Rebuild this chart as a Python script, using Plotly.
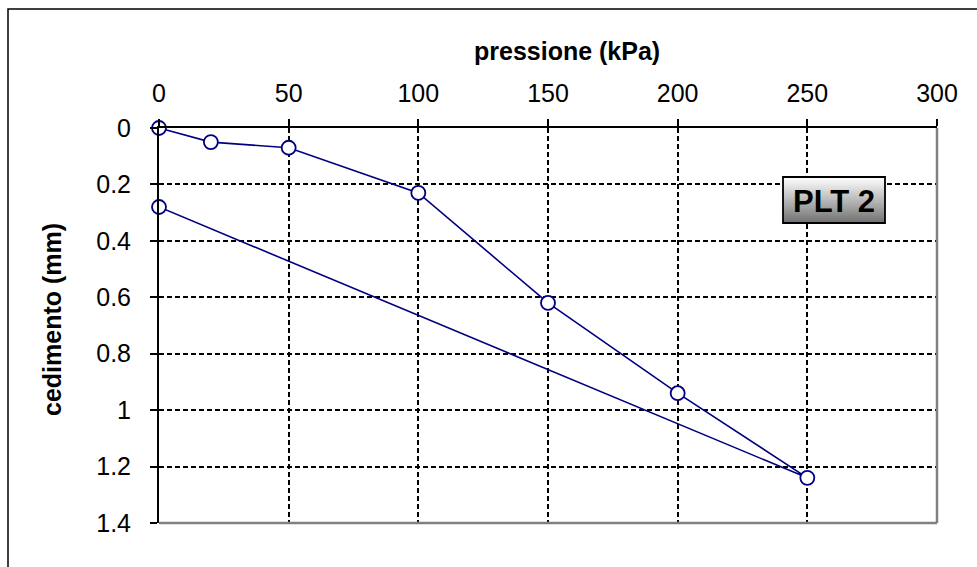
import plotly.graph_objects as go

# Plate load test PLT 2: applied pressure vs settlement
pressione = [0, 20, 50, 100, 150, 200, 250, 0]
cedimento = [0, 0.05, 0.07, 0.23, 0.62, 0.94, 1.24, 0.28]

x_ticks = [0, 50, 100, 150, 200, 250, 300]
y_ticks = [0, 0.2, 0.4, 0.6, 0.8, 1, 1.2, 1.4]
y_labels = ["0", "0.2", "0.4", "0.6", "0.8", "1", "1.2", "1.4"]

W, H = 977, 567
ML, MR, MT, MB = 159, 40, 128, 44
PW, PH = W - ML - MR, H - MT - MB

FONT = "Liberation Sans, Arial, sans-serif"
NAVY = "#000080"

fig = go.Figure()
fig.add_trace(go.Scatter(
    x=pressione, y=cedimento, mode="lines+markers",
    line=dict(color=NAVY, width=1.6),
    marker=dict(symbol="circle", size=14, color="white",
                line=dict(color=NAVY, width=1.8)),
    cliponaxis=False, showlegend=False, hoverinfo="x+y",
))

def px_x(p):
    return (p - ML) / PW

def px_y(p):
    return 1 - (p - MT) / PH

shapes = []
# outer chart frame
shapes.append(dict(type="rect", xref="paper", yref="paper",
                   x0=px_x(8), x1=px_x(1020), y0=px_y(9), y1=px_y(620),
                   line=dict(color="black", width=1.5), layer="below"))
# right and bottom border of plot area
shapes.append(dict(type="line", xref="paper", yref="paper", x0=1, x1=1, y0=0, y1=1,
                   line=dict(color="#808080", width=2.5), layer="above"))
shapes.append(dict(type="line", xref="paper", yref="paper", x0=0, x1=1, y0=0, y1=0,
                   line=dict(color="#808080", width=2.5), layer="above"))

# "PLT 2" label box with a vertical white-to-grey gradient
bx0, bx1, by0, by1 = 783, 885, 177, 223
n = 30
step = (by1 - by0) / n
for i in range(n):
    t = i / (n - 1)
    g = int(255 - t * (255 - 115))
    ya = by0 + step * i
    yb = min(by1, ya + step + 0.8)
    shapes.append(dict(type="rect", xref="paper", yref="paper",
                       x0=px_x(bx0), x1=px_x(bx1), y0=px_y(yb), y1=px_y(ya),
                       fillcolor=f"rgb({g},{g},{g})", line=dict(width=0), layer="above"))
shapes.append(dict(type="rect", xref="paper", yref="paper",
                   x0=px_x(bx0), x1=px_x(bx1), y0=px_y(by1), y1=px_y(by0),
                   line=dict(color="black", width=1.8), layer="above"))

annotations = [
    dict(text="<b>PLT 2</b>", xref="paper", yref="paper",
         x=px_x((bx0 + bx1) / 2), y=px_y((by0 + by1) / 2 + 1),
         showarrow=False, font=dict(family=FONT, size=31, color="black"),
         xanchor="center", yanchor="middle"),
    dict(text="<b>pressione (kPa)</b>", xref="paper", yref="paper",
         x=px_x(567), y=px_y(51), showarrow=False,
         font=dict(family=FONT, size=25, color="black"),
         xanchor="center", yanchor="middle"),
    dict(text="<b>cedimento (mm)</b>", xref="paper", yref="paper",
         x=px_x(52), y=px_y(320), showarrow=False, textangle=-90,
         font=dict(family=FONT, size=25, color="black"),
         xanchor="center", yanchor="middle"),
]

fig.update_layout(
    width=W, height=H,
    margin=dict(l=ML, r=MR, t=MT, b=MB),
    paper_bgcolor="white", plot_bgcolor="white",
    font=dict(family=FONT, size=25, color="black"),
    shapes=shapes, annotations=annotations,
    xaxis=dict(
        side="top", range=[0, 300], tickvals=x_ticks,
        showline=True, linecolor="black", linewidth=2,
        ticks="outside", ticklen=7, tickcolor="black", tickwidth=1.5,
        ticklabelstandoff=7,
        showgrid=True, gridcolor="black", griddash="5px,3px", gridwidth=1.6,
        zeroline=False, fixedrange=True,
    ),
    yaxis=dict(
        range=[1.4, 0], tickvals=y_ticks, ticktext=y_labels,
        showline=True, linecolor="black", linewidth=2,
        ticks="outside", ticklen=7, tickcolor="black", tickwidth=1.5,
        ticklabelstandoff=14,
        showgrid=True, gridcolor="black", griddash="5px,3px", gridwidth=1.6,
        zeroline=False, fixedrange=True,
    ),
)

fig.write_html("out.html")
